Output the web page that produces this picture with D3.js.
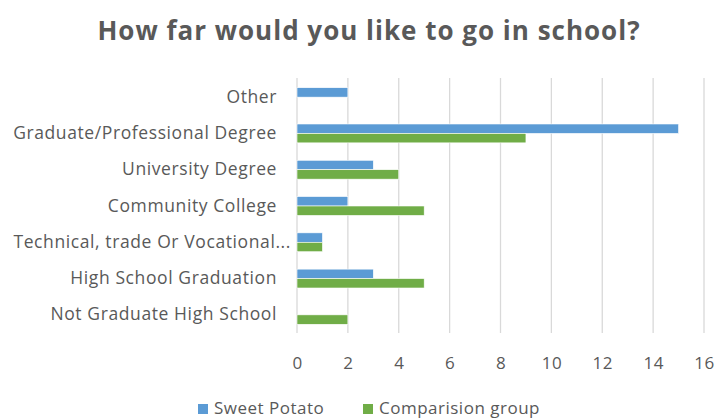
<!DOCTYPE html>
<html><head><meta charset="utf-8">
<script src="https://cdn.jsdelivr.net/npm/d3@7"></script>
<style>body{margin:0;background:#fff}svg{display:block}</style>
</head><body>
<svg id="c" width="717" height="418"></svg>
<script>
const title = "How far would you like to go in school?";
const categories = ["Other","Graduate/Professional Degree","University Degree","Community College","Technical, trade Or Vocational...","High School Graduation","Not Graduate High School"];
const sweetPotato = [2,15,3,2,1,3,0];
const comparison = [0,9,4,5,1,5,2];
const seriesNames = ["Sweet Potato","Comparision group"];
const xTicks = [0,2,4,6,8,10,12,14,16];
const colors = ["#5B9BD5","#70AD47"];

const svg = d3.select("#c");
const font = "'Open Sans', sans-serif";
const grey = "#595959";

const x = d3.scaleLinear().domain([0,16]).range([297,704]);
const y = d3.scaleBand().domain(categories).range([79,333]).paddingInner(0.48).paddingOuter(0.24);
const ys = d3.scaleBand().domain(seriesNames).range([0,y.bandwidth()]);

svg.append("text").attr("x",369).attr("y",40).attr("text-anchor","middle")
  .attr("font-family",font).attr("font-weight","bold").attr("font-size",26)
  .attr("letter-spacing",1).attr("fill",grey).text(title);

// gridlines
svg.append("g").selectAll("line").data(xTicks).join("line")
  .attr("x1",d=>x(d)).attr("x2",d=>x(d)).attr("y1",78).attr("y2",333)
  .attr("stroke","#D9D9D9").attr("stroke-width",1.3);

// x axis labels
const xa = svg.append("g").attr("transform","translate(0,333)")
  .call(d3.axisBottom(x).tickValues(xTicks).tickSize(0).tickPadding(24));
xa.select(".domain").remove();
xa.selectAll("text").attr("font-family",font).attr("font-size",17).attr("letter-spacing",0.5).attr("fill",grey);

// y labels
const ya = svg.append("g").attr("transform","translate(277,0)")
  .call(d3.axisLeft(y).tickSize(0).tickPadding(0));
ya.select(".domain").remove();
ya.selectAll("text").attr("font-family",font).attr("font-size",17.5).attr("letter-spacing",0.6).attr("fill",grey)
  .attr("dx",d=>d.endsWith("...")?14:0);

// bars
const data = categories.map((c,i)=>({c, vals:[sweetPotato[i],comparison[i]]}));
const g = svg.append("g").selectAll("g").data(data).join("g")
  .attr("transform",d=>`translate(0,${y(d.c)})`);
g.selectAll("rect").data(d=>d.vals.map((v,j)=>({v,s:seriesNames[j],j}))).join("rect")
  .attr("x",x(0)).attr("y",d=>ys(d.s)).attr("width",d=>x(d.v)-x(0)).attr("height",ys.bandwidth())
  .attr("fill",d=>colors[d.j]).attr("stroke","#fff").attr("stroke-width",0.6)
  .attr("display",d=>d.v===0?"none":null);

// legend
const lx = [198,363];
const lg = svg.append("g").selectAll("g").data(seriesNames).join("g")
  .attr("transform",(d,i)=>`translate(${lx[i]},404)`);
lg.append("rect").attr("width",10).attr("height",10).attr("fill",(d,i)=>colors[i]);
lg.append("text").attr("x",16).attr("y",10).attr("font-family",font).attr("font-size",17)
  .attr("letter-spacing",0.5).attr("fill",grey).text(d=>d);
</script>
</body></html>
